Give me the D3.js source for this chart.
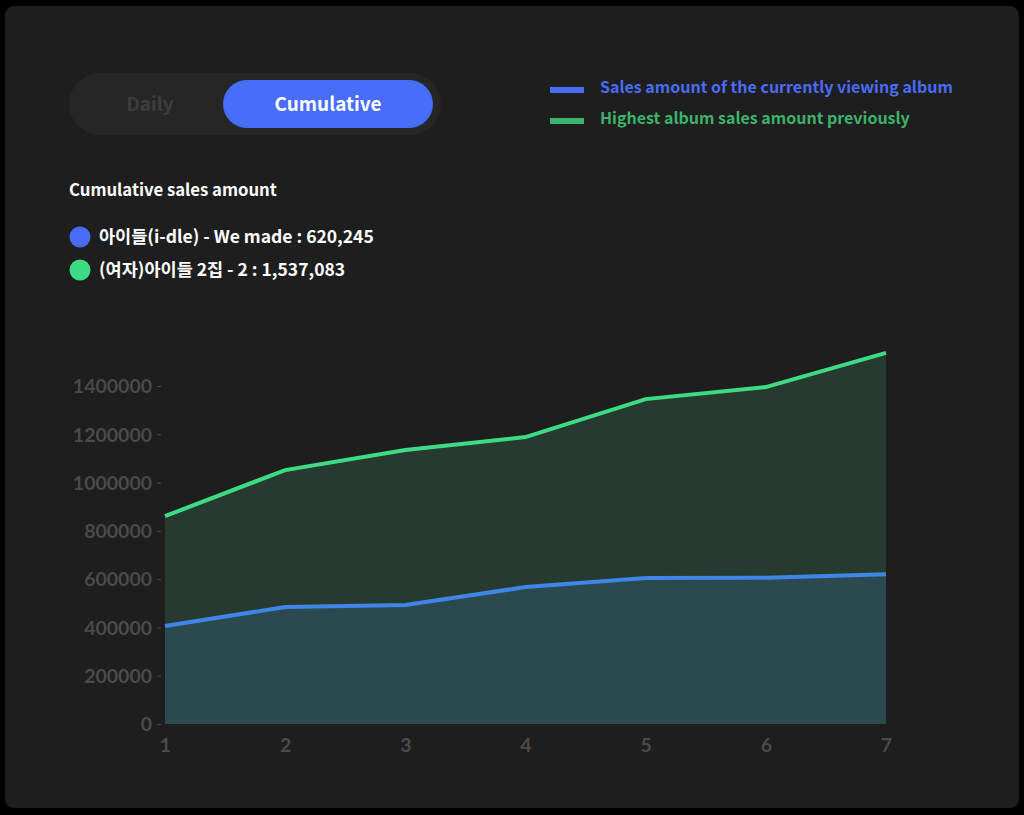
<!DOCTYPE html>
<html>
<head>
<meta charset="utf-8">
<script src="https://cdn.jsdelivr.net/npm/d3@7"></script>
<style>
  html, body { margin: 0; padding: 0; background: #000; }
  svg { display: block; }
</style>
</head>
<body>
<script>
// chart data
const days = [1, 2, 3, 4, 5, 6, 7];
const currentAlbum = [405800, 484500, 492800, 567300, 604600, 606000, 620245];
const previousBest = [861000, 1051800, 1134600, 1188400, 1345700, 1395400, 1537083];
const yTicks = [0, 200000, 400000, 600000, 800000, 1000000, 1200000, 1400000];
const currentName = '아이들(i-dle) - We made : 620,245';
const previousName = '(여자)아이들 2집 - 2 : 1,537,083';
const legendLabels = ['Sales amount of the currently viewing album', 'Highest album sales amount previously'];
const toggleLabels = ['Daily', 'Cumulative'];

const w = 1024, h = 815;
const font = '"Noto Sans CJK KR", "Noto Sans", sans-serif';
const blue = '#4a6cf7', green = '#3ddc84';

const svg = d3.select('body').append('svg').attr('width', w).attr('height', h);

// card
svg.append('rect').attr('x', 5).attr('y', 6).attr('width', 1014).attr('height', 802)
  .attr('rx', 9).attr('fill', '#1e1e1e');

// toggle
svg.append('rect').attr('x', 69).attr('y', 73).attr('width', 372).attr('height', 62)
  .attr('rx', 31).attr('fill', '#262626');
svg.append('rect').attr('x', 223).attr('y', 80).attr('width', 210).attr('height', 48)
  .attr('rx', 24).attr('fill', '#486dfb');
svg.append('text').attr('x', 150).attr('y', 111).attr('text-anchor', 'middle')
  .attr('font-family', font).attr('font-weight', 700).attr('font-size', 19)
  .attr('fill', '#3d3d3d').text(toggleLabels[0]);
svg.append('text').attr('x', 328).attr('y', 111).attr('text-anchor', 'middle')
  .attr('font-family', font).attr('font-weight', 700).attr('font-size', 19)
  .attr('fill', '#fff').text(toggleLabels[1]);

// line legend
const legendColors = [blue, '#3cb26a'];
legendLabels.forEach((label, i) => {
  svg.append('rect').attr('x', 550).attr('y', 87 + i * 31).attr('width', 34).attr('height', 6)
    .attr('fill', legendColors[i]);
  svg.append('text').attr('x', 600).attr('y', 93 + i * 31)
    .attr('font-family', font).attr('font-weight', 700).attr('font-size', 16)
    .attr('fill', legendColors[i]).text(label);
});

// sales title and dots
svg.append('text').attr('x', 69).attr('y', 196)
  .attr('font-family', font).attr('font-weight', 700).attr('font-size', 16.7)
  .attr('fill', '#fff').text('Cumulative sales amount');
[[currentName, blue], [previousName, green]].forEach(([label, c], i) => {
  svg.append('circle').attr('cx', 80).attr('cy', 237 + i * 33).attr('r', 10.5).attr('fill', c);
  svg.append('text').attr('x', 99).attr('y', 243 + i * 33)
    .attr('font-family', font).attr('font-weight', 700).attr('font-size', 17.5)
    .attr('fill', '#fff').text(label);
});

// chart
const x = d3.scaleLinear().domain([1, 7]).range([165, 886]);
const y = d3.scaleLinear().domain([0, 1400000]).range([724, 386]);

const areaOf = vals => d3.area().x((d, i) => x(days[i])).y0(y(0)).y1(d => y(d))(vals);
const lineOf = vals => d3.line().x((d, i) => x(days[i])).y(d => y(d))(vals);

svg.append('path').attr('d', areaOf(previousBest)).attr('fill', '#263a30');
svg.append('path').attr('d', areaOf(currentAlbum)).attr('fill', '#2b4a50');
svg.append('path').attr('d', lineOf(previousBest)).attr('fill', 'none')
  .attr('stroke', green).attr('stroke-width', 4);
svg.append('path').attr('d', lineOf(currentAlbum)).attr('fill', 'none')
  .attr('stroke', '#3f86e8').attr('stroke-width', 4);

const yAxis = svg.append('g').attr('transform', 'translate(163,0)')
  .call(d3.axisLeft(y).tickValues(yTicks).tickSize(4).tickPadding(7).tickFormat(d3.format('d')));
yAxis.select('.domain').remove();
yAxis.selectAll('line').attr('stroke', '#4a4a4a').attr('transform', 'translate(-2,0)');
yAxis.selectAll('text').attr('fill', '#4a4a4a').attr('font-family', 'Lato, sans-serif')
  .attr('font-weight', 700).attr('font-size', 19.5).attr('dy', '0.35em');

const xAxis = svg.append('g').attr('transform', 'translate(0,724)')
  .call(d3.axisBottom(x).tickValues(days).tickSize(0).tickPadding(14).tickFormat(d3.format('d')));
xAxis.select('.domain').remove();
xAxis.selectAll('text').attr('fill', '#4a4a4a').attr('font-family', 'Lato, sans-serif')
  .attr('font-weight', 700).attr('font-size', 19.5);
</script>
</body>
</html>
